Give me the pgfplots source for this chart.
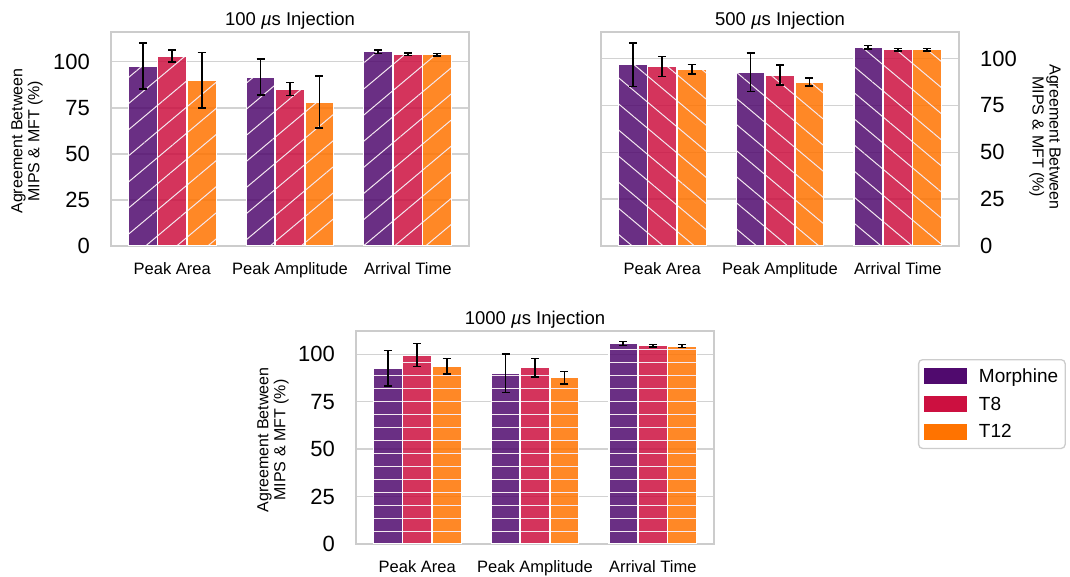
\documentclass[border=0pt]{standalone}
\usepackage{pgfplots}
\pgfplotsset{compat=1.18}
\usepackage{fontspec}
\setmainfont{Liberation Sans}
\usetikzlibrary{patterns.meta}

\definecolor{cMor}{HTML}{500A6E}
\definecolor{cT8}{HTML}{CC1040}
\definecolor{cT12}{HTML}{FF7300}
\definecolor{framegray}{HTML}{CCCCCC}
\definecolor{gridgray}{HTML}{D2D2D2}
\definecolor{hatchcol}{HTML}{F4E8F0}

% horizontal hatch whose tiles overlap, so the lines run on without seams
\pgfdeclarepatternformonly{hhatch}{\pgfqpoint{-2pt}{0pt}}{\pgfqpoint{15pt}{13pt}}{\pgfqpoint{13pt}{13pt}}{%
  \pgfsetlinewidth{1pt}%
  \pgfpathmoveto{\pgfqpoint{-2pt}{6.5pt}}%
  \pgfpathlineto{\pgfqpoint{15pt}{6.5pt}}%
  \pgfusepath{stroke}}

\pgfplotsset{
  panel/.style={
    scale only axis, width=358pt, height=214pt, anchor=south west,
    xmin=-0.52, xmax=2.52, ymin=0,
    xtick={0,1,2}, xticklabels={Peak Area,Peak Amplitude,Arrival Time},
    ytick={0,25,50,75,100}, yticklabels={0,25,50,75,100},
    major tick length=0pt,
    ymajorgrids, grid style={draw=gridgray, line width=1.3pt},
    axis line style={draw=framegray, line width=1.8pt},
    yticklabel style={font=\fontsize{22}{22}\selectfont, inner sep=0pt},
    yticklabel shift=21pt,
    xticklabel style={font=\fontsize{16.5}{16.5}\selectfont, inner sep=0pt, anchor=north},
    xticklabel shift=16pt,
    title style={at={(rel axis cs:0.5,1)}, anchor=south, inner sep=0pt, yshift=-4pt,
      font=\fontsize{18.5}{18.5}\selectfont},
    ybar, bar width=0.245,
    error bars/y dir=both, error bars/y explicit,
    error bars/error bar style={draw=black, line width=1.8pt, draw opacity=1},
    error bars/error mark options={rotate=90, mark size=4pt, line width=1.5pt, draw=black, draw opacity=1},
  },
  ylab/.style={every axis y label/.style={at={(rel axis cs:#1)}, rotate=90, anchor=center,
      align=center, font=\fontsize{16}{17}\selectfont}},
  ylabR/.style={every axis y label/.style={at={(rel axis cs:#1)}, rotate=-90, anchor=center,
      align=center, font=\fontsize{16}{17}\selectfont}},
  barM/.style={fill=cMor, fill opacity=0.85, draw=white, line width=1.2pt, bar shift=-0.25, forget plot},
  barT8/.style={fill=cT8, fill opacity=0.85, draw=white, line width=1.2pt, bar shift=0, forget plot},
  barT12/.style={fill=cT12, fill opacity=0.85, draw=white, line width=1.2pt, bar shift=0.25, forget plot},
  hatchNE/.style={postaction={pattern={Lines[angle=40,distance=20pt,line width=1pt]}, pattern color=hatchcol, fill opacity=1}},
  hatchSE/.style={postaction={pattern={Lines[angle=-40,distance=20pt,line width=1pt]}, pattern color=hatchcol, fill opacity=1}},
  hatchH/.style={postaction={pattern=hhatch, pattern color=hatchcol, fill opacity=1}},
  legpatch/.style={legend image code/.code={\fill[#1, sharp corners] (0pt,-7.5pt) rectangle (42pt,7.5pt); \path (52pt,0pt);}},
}

\begin{document}
\begin{tikzpicture}
\useasboundingbox (0,0) rectangle (1070pt,577pt);

% 100 us injection
\begin{axis}[panel, at={(111pt,331pt)}, ymax=116.2,
  title={100 \textit{µ}s Injection},
  ylab={-0.2346,0.49}, ylabel={Agreement Between\\MIPS \& MFT (\%)}]
\addplot[barM, hatchNE] coordinates {(0,97.7) +- (0,12.5) (1,91.8) +- (0,9.8) (2,105.4) +- (0,0.9)};
\addplot[barT8, hatchNE] coordinates {(0,103.2) +- (0,3.3) (1,85.2) +- (0,3.6) (2,104.1) +- (0,0.7)};
\addplot[barT12, hatchNE] coordinates {(0,90.0) +- (0,15.0) (1,78.2) +- (0,14.2) (2,103.9) +- (0,0.7)};
\end{axis}

% 500 us injection
\begin{axis}[panel, at={(601pt,331pt)}, ymax=114.1,
  title={500 \textit{µ}s Injection},
  yticklabel pos=right,
  ylabR={1.240,0.51}, ylabel={Agreement Between\\MIPS \& MFT (\%)}]
\addplot[barM, hatchSE] coordinates {(0,96.6) +- (0,11.6) (1,92.7) +- (0,10.3) (2,106.0) +- (0,0.9)};
\addplot[barT8, hatchSE] coordinates {(0,95.8) +- (0,5.3) (1,91.2) +- (0,5.3) (2,104.6) +- (0,0.7)};
\addplot[barT12, hatchSE] coordinates {(0,94.2) +- (0,2.6) (1,87.4) +- (0,2.2) (2,104.6) +- (0,0.7)};
\end{axis}

% 1000 us injection
\begin{axis}[panel, at={(356pt,33pt)}, height=213pt, ymax=112.2,
  title={1000 \textit{µ}s Injection},
  ylab={-0.232,0.488}, ylabel={Agreement Between\\MIPS \& MFT (\%)},
  legend cell align=left,
  legend style={at={(rel axis cs:1.5698,0.8685)}, anchor=north west,
    draw=framegray, line width=1.3pt, rounded corners=4pt, fill=white,
    font=\fontsize{19}{19}\selectfont, inner xsep=5pt, inner ysep=7pt,
    row sep=9pt, nodes={inner sep=2pt}}]
\addplot[barM, hatchH] coordinates {(0,92.5) +- (0,9.4) (1,90.0) +- (0,10.2) (2,105.6) +- (0,1.0)};
\addplot[barT8, hatchH] coordinates {(0,99.5) +- (0,6.0) (1,92.8) +- (0,4.9) (2,104.4) +- (0,0.6)};
\addplot[barT12, hatchH] coordinates {(0,93.6) +- (0,4.1) (1,87.6) +- (0,3.2) (2,104.3) +- (0,0.7)};
\addlegendimage{legpatch=cMor}
\addlegendentry{Morphine}
\addlegendimage{legpatch=cT8}
\addlegendentry{T8}
\addlegendimage{legpatch=cT12}
\addlegendentry{T12}
\end{axis}
\end{tikzpicture}
\end{document}
